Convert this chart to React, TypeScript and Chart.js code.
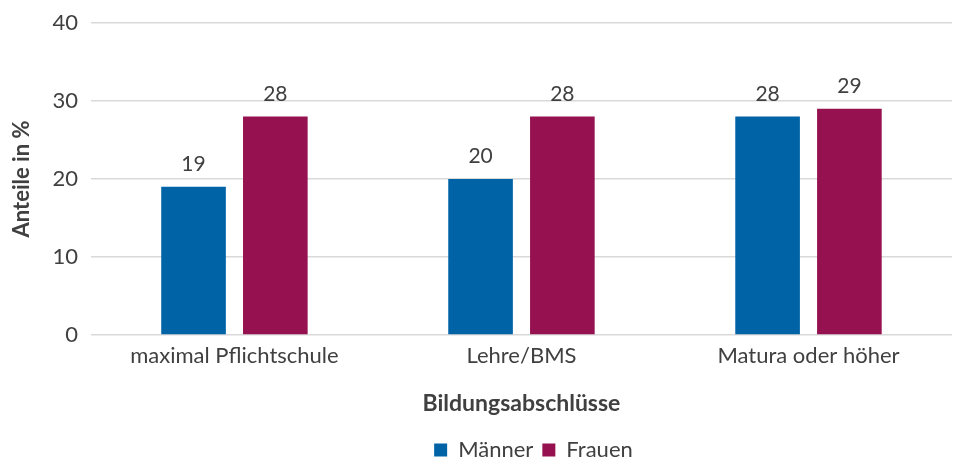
import React, { useEffect, useRef } from "react";
import { Chart, registerables } from "chart.js";

Chart.register(...registerables);

const categories = ["maximal Pflichtschule", "Lehre/BMS", "Matura oder höher"];
const maenner = [19, 20, 28];
const frauen = [28, 28, 29];
const yTicks = [0, 10, 20, 30, 40];

const TEXT = "#404040";
const FONT = "Lato";

const valueLabels = {
  id: "valueLabels",
  afterDatasetsDraw(chart: any) {
    const ctx = chart.ctx;
    ctx.save();
    ctx.font = `21px ${FONT}`;
    ctx.fillStyle = TEXT;
    ctx.textAlign = "center";
    ctx.textBaseline = "bottom";
    chart.data.datasets.forEach((ds: any, i: number) => {
      const meta = chart.getDatasetMeta(i);
      meta.data.forEach((bar: any, j: number) => {
        ctx.fillText(String(ds.data[j]), bar.x, bar.y - 12);
      });
    });
    ctx.restore();
  },
};

const legendShift = {
  id: "legendShift",
  beforeDraw(chart: any) {
    const lg = chart.legend;
    if (!lg) return;
    const target = (chart.chartArea.left + chart.chartArea.right) / 2 + 12;
    const shift = target - (lg.left + lg.right) / 2;
    lg.left += shift;
    lg.right += shift;
  },
};

export default function App() {
  const ref = useRef<HTMLCanvasElement>(null);
  useEffect(() => {
    document.body.style.margin = "0";
    const chart = new Chart(ref.current!, {
      type: "bar",
      data: {
        labels: categories,
        datasets: [
          { label: "Männer", data: maenner, backgroundColor: "#0063A6", categoryPercentage: 0.57, barPercentage: 0.79 },
          { label: "Frauen", data: frauen, backgroundColor: "#951150", categoryPercentage: 0.57, barPercentage: 0.79 },
        ],
      },
      options: {
        animation: false,
        responsive: false,
        maintainAspectRatio: false,
        layout: { padding: { top: 0, right: 1, left: 5, bottom: -14 } },
        plugins: {
          tooltip: { enabled: false },
          legend: {
            position: "bottom",
            labels: {
              color: TEXT,
              font: { family: FONT, size: 22 },
              boxWidth: 13,
              boxHeight: 13,
              padding: 9,
            },
          },
        },
        scales: {
          x: {
            grid: { display: false },
            border: { display: false },
            ticks: { color: TEXT, font: { family: FONT, size: 22 }, padding: 0 },
            title: {
              display: true,
              text: "Bildungsabschlüsse",
              color: TEXT,
              font: { family: FONT, size: 23, weight: "bold" },
              padding: { top: 20, bottom: 13 },
            },
          },
          y: {
            min: 0,
            max: 40,
            afterBuildTicks: (axis: any) => {
              axis.ticks = yTicks.map((v) => ({ value: v }));
            },
            grid: { color: "#d9d9d9", lineWidth: 1.5, drawTicks: false },
            border: { display: false },
            ticks: { color: TEXT, font: { family: FONT, size: 22, lineHeight: 0.9 }, padding: 13 },
            title: {
              display: true,
              text: "Anteile in %",
              color: TEXT,
              font: { family: FONT, size: 22, weight: "bold" },
              padding: { bottom: 4 },
            },
          },
        },
      },
      plugins: [valueLabels, legendShift],
    });
    return () => chart.destroy();
  }, []);
  return (
    <div style={{ width: 953, height: 457 }}>
      <canvas ref={ref} width={953} height={457} style={{ width: 953, height: 457 }} />
    </div>
  );
}
